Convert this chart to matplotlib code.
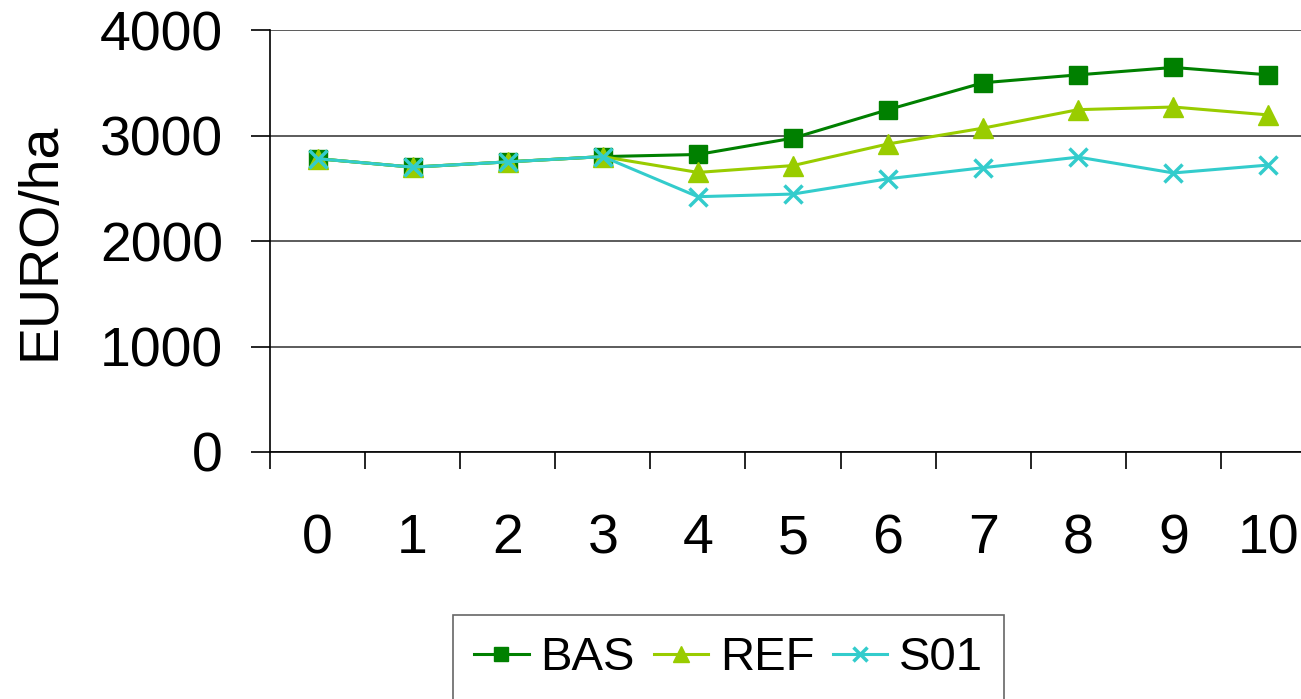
import numpy as np
import matplotlib.pyplot as plt

plt.rcParams['font.family'] = ['Liberation Sans', 'DejaVu Sans']

# Data
years = ['0', '1', '2', '3', '4', '5', '6', '7', '8', '9', '10']
bas = [2780, 2700, 2750, 2800, 2820, 2975, 3245, 3500, 3575, 3645, 3575]
ref = [2780, 2700, 2750, 2800, 2650, 2715, 2920, 3070, 3245, 3270, 3195]
s01 = [2780, 2700, 2750, 2800, 2420, 2445, 2590, 2695, 2795, 2645, 2720]

fig = plt.figure(figsize=(13.01, 6.99), dpi=100)
W, H = 1301, 699
ax = fig.add_axes([270 / W, 1 - 452 / H, 1046 / W, 422 / H])

x = np.arange(len(years))
ax.plot(x, bas, color='#008000', lw=2.2, marker='s', ms=13, mec='#008000', label='BAS')
ax.plot(x, ref, color='#99CC00', lw=2.2, marker='^', ms=15, mec='#99CC00', label='REF')
ax.plot(x, s01, color='#33CCCC', lw=2.2, marker='x', ms=13, mew=2.5, label='S01')

ax.set_xlim(-0.5, len(years) - 0.5)
ax.set_ylim(0, 4000)
ax.set_yticks([0, 1000, 2000, 3000, 4000])
ax.yaxis.grid(True, color='#404040', lw=1.2)
ax.set_axisbelow(True)

# category boundaries as ticks, labels in the middle
ax.set_xticks(np.arange(len(years) + 1) - 0.5)
ax.set_xticklabels([])
ax.set_xticks(x, minor=True)
ax.set_xticklabels(years, minor=True)
ax.tick_params(axis='x', which='major', length=12, width=1.2, direction='out')
ax.tick_params(axis='x', which='minor', length=0, pad=44, labelsize=40)
ax.tick_params(axis='y', length=14, width=1.2, pad=20, labelsize=40)

for s in ['top', 'right']:
    ax.spines[s].set_visible(False)
ax.spines['left'].set_linewidth(1.2)
ax.spines['bottom'].set_linewidth(1.2)

ax.set_ylabel('EURO/ha', fontsize=40, labelpad=24)

leg = fig.legend(loc='upper left', bbox_to_anchor=(453 / W, 1 - 615 / H), ncol=3,
                 fontsize=34, frameon=True, fancybox=False, edgecolor='#404040',
                 handlelength=1.15, handletextpad=0.25, columnspacing=0.4,
                 borderpad=0.45, markerscale=0.8, borderaxespad=0)
leg.get_frame().set_linewidth(1.2)

fig.savefig('out.png', dpi=100)
